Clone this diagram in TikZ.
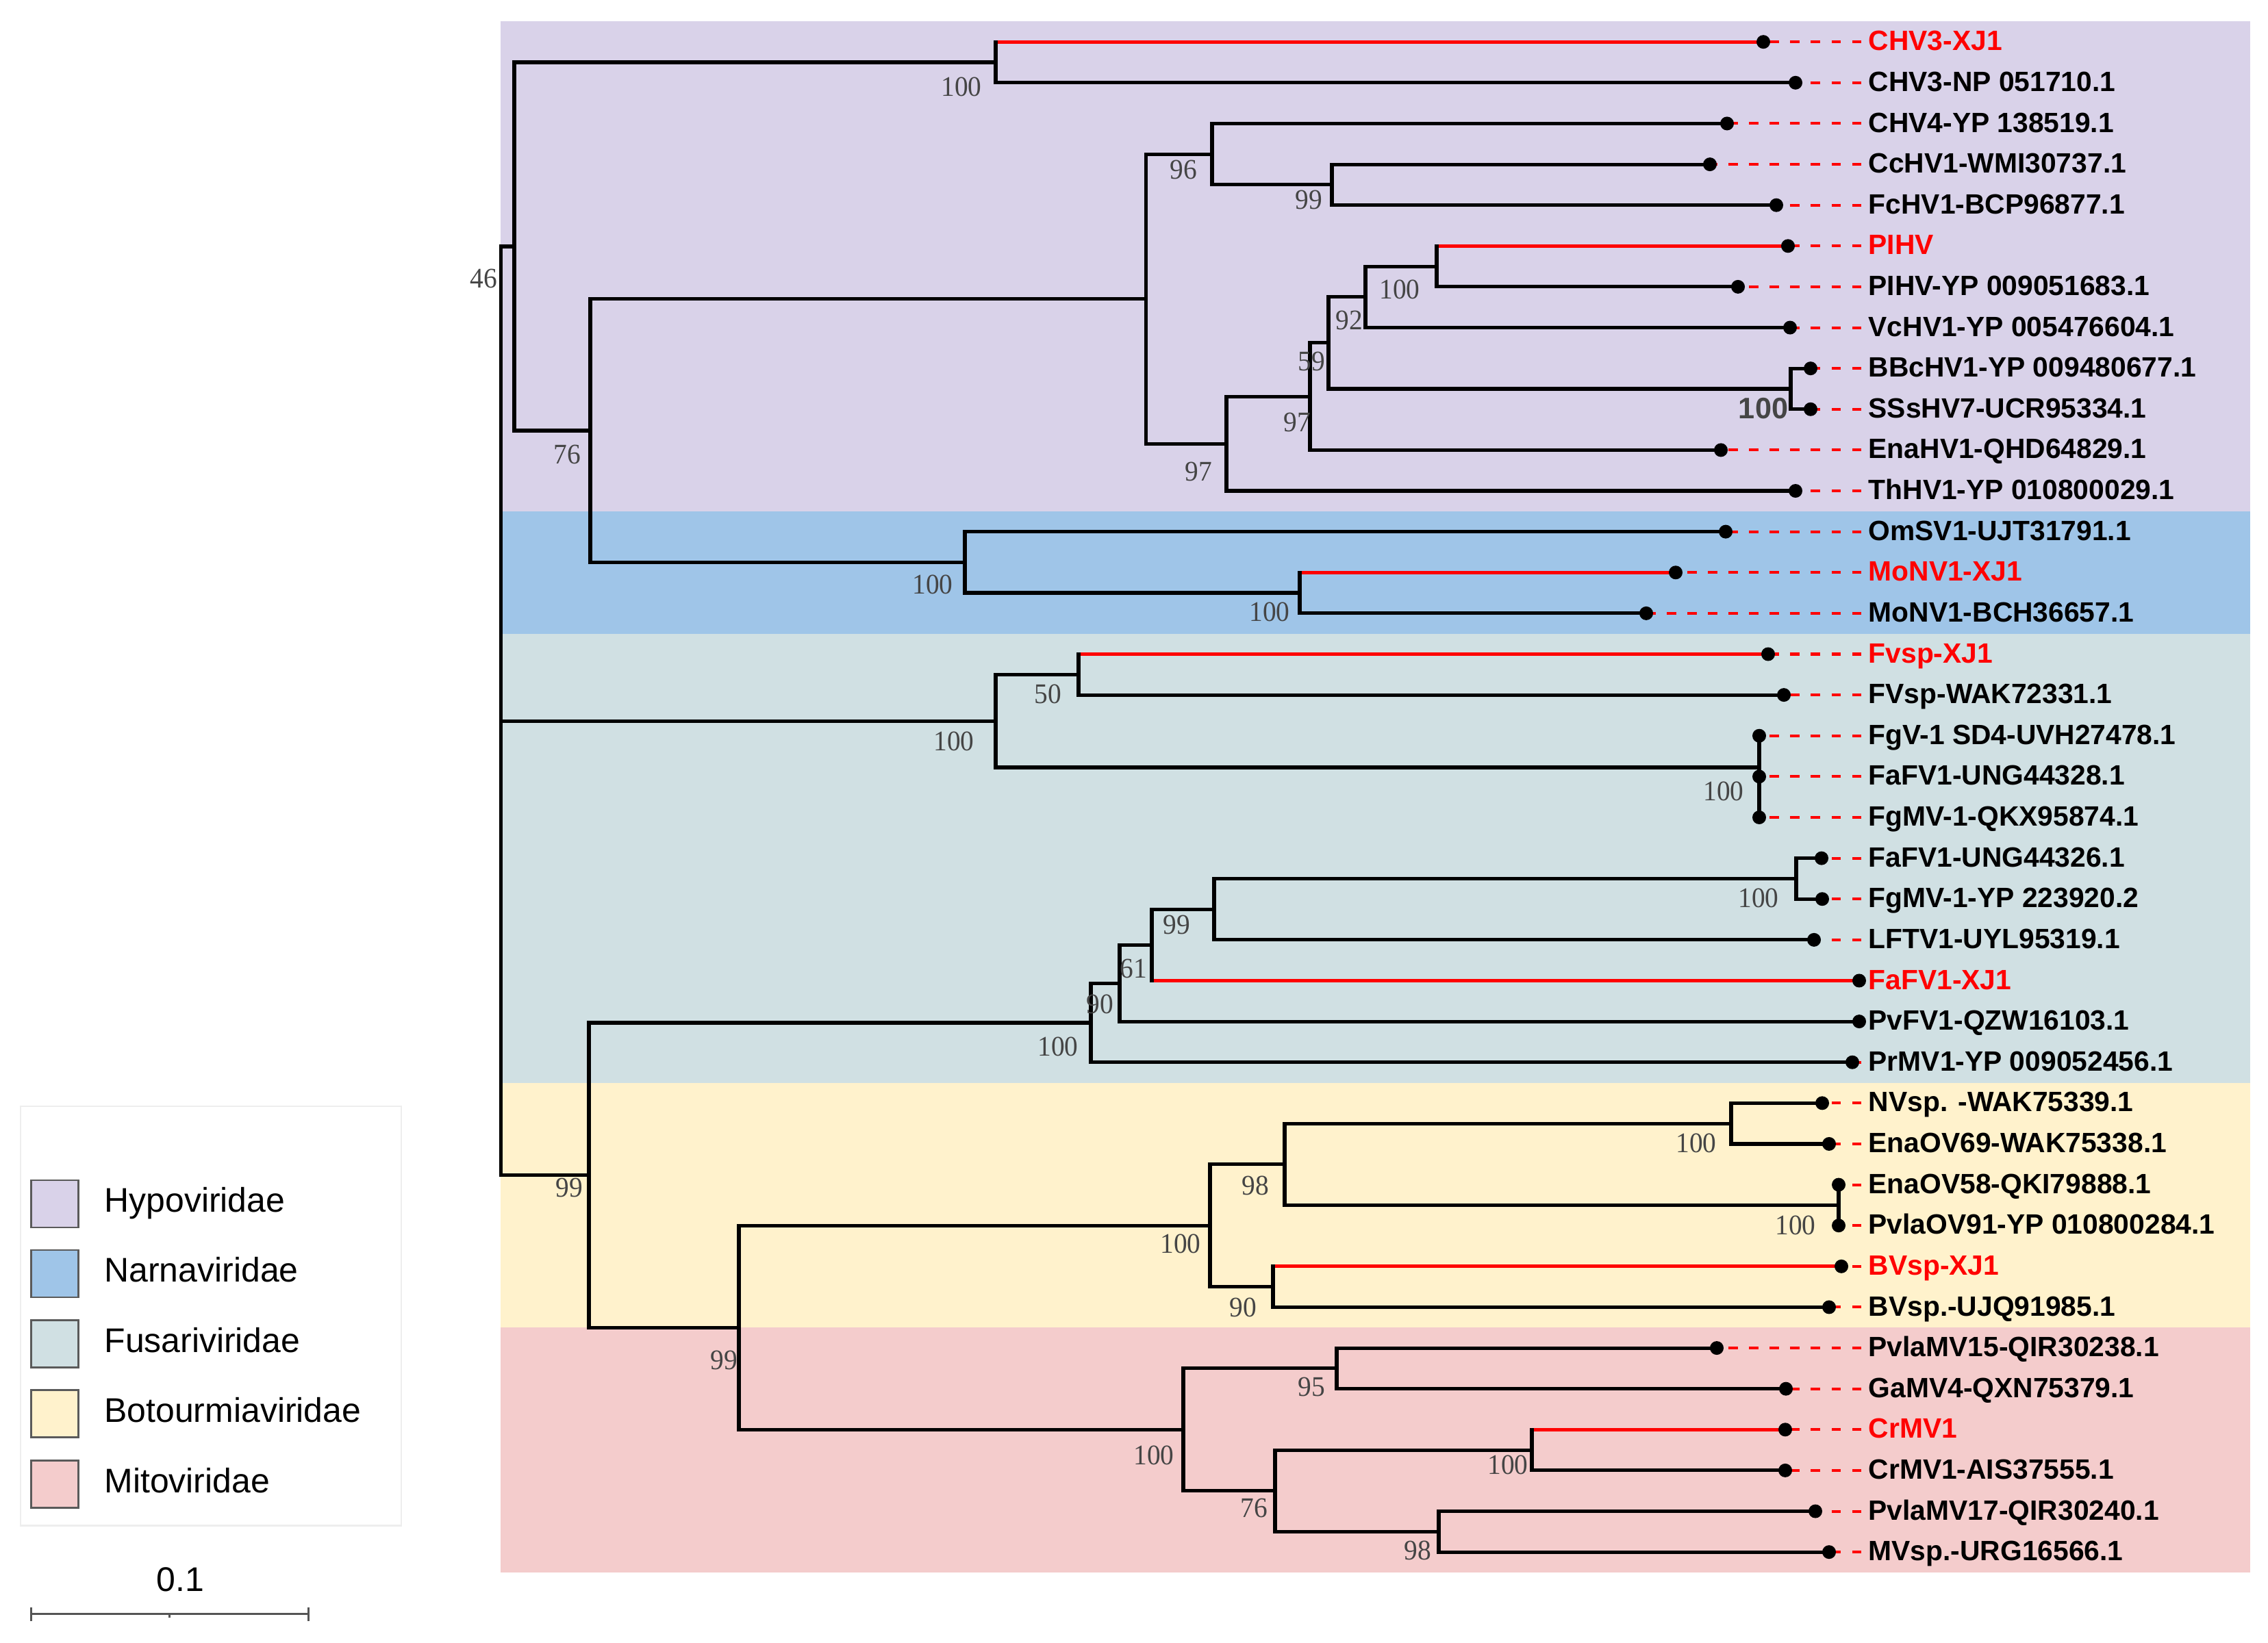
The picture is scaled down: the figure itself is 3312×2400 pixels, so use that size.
\documentclass[tikz,border=0pt]{standalone}
\usepackage{fontspec}
\setmainfont{Liberation Sans}
\newfontfamily\bsfont{Liberation Serif}
\definecolor{hypo}{HTML}{D9D2E9}
\definecolor{narna}{HTML}{9FC5E8}
\definecolor{fusa}{HTML}{D0E0E3}
\definecolor{boto}{HTML}{FFF2CC}
\definecolor{mito}{HTML}{F4CCCC}
\definecolor{treered}{HTML}{FF0000}
\definecolor{bootgray}{HTML}{454545}
\definecolor{legline}{HTML}{EEEEEE}
\definecolor{swline}{HTML}{5A5A5A}
\definecolor{sbgray}{HTML}{555555}
\newcommand{\tbh}[3][branch]{\draw[#1] (#2|-#3) -- (#3);}
\newcommand{\tbv}[3]{\draw[branch] (#1|-#2) -- (#1|-#3);}
\newcommand{\bsv}[1]{\scalebox{0.95}[1]{#1}}
\begin{document}
\begin{tikzpicture}[x=0.01cm,y=-0.01cm,
  branch/.style={line width=1.45pt, line cap=rect, draw=black},
  redbranch/.style={line width=1.45pt, draw=treered},
  dashline/.style={draw=treered, line width=1.15pt, dash pattern=on 0.135cm off 0.165cm},
  leaf/.style={anchor=west, inner sep=0pt, text height=0.716em, text depth=0pt, font=\fontsize{11.6}{13}\selectfont\bfseries},
  boot/.style={inner sep=0pt, text=bootgray, font=\bsfont\fontsize{11.8}{12}\selectfont},
  bootbig/.style={inner sep=0pt, text=bootgray, font=\fontsize{12.3}{13}\selectfont\bfseries},
  swatch/.style={draw=swline, line width=0.7pt, minimum width=0.69cm, minimum height=0.69cm, inner sep=0pt},
  legtext/.style={anchor=west, inner sep=0pt, text height=0.716em, text depth=0pt, font=\fontsize{14.2}{16}\selectfont}
]
\useasboundingbox (0,0) rectangle (3312,2400);
\fill[white] (0,0) rectangle (3312,2400);
% family bands
\fill[hypo] (731,31.4) rectangle (3286,746.8);
\fill[narna] (731,746.8) rectangle (3286,925.7);
\fill[fusa] (731,925.7) rectangle (3286,1581.5);
\fill[boto] (731,1581.5) rectangle (3286,1939.2);
\fill[mito] (731,1939.2) rectangle (3286,2296.8);
% leaves
\foreach \i/\tx/\col/\lab in {
 0/2575/treered/CHV3-XJ1,
 1/2622/black/CHV3-NP 051710.1,
 2/2522/black/CHV4-YP 138519.1,
 3/2497/black/CcHV1-WMI30737.1,
 4/2594/black/FcHV1-BCP96877.1,
 5/2611/treered/PIHV,
 6/2538/black/PIHV-YP 009051683.1,
 7/2614/black/VcHV1-YP 005476604.1,
 8/2644/black/BBcHV1-YP 009480677.1,
 9/2644/black/SSsHV7-UCR95334.1,
 10/2513/black/EnaHV1-QHD64829.1,
 11/2622/black/ThHV1-YP 010800029.1,
 12/2520/black/OmSV1-UJT31791.1,
 13/2447/treered/MoNV1-XJ1,
 14/2404/black/MoNV1-BCH36657.1,
 15/2582/treered/Fvsp-XJ1,
 16/2605/black/FVsp-WAK72331.1,
 17/2569/black/FgV-1 SD4-UVH27478.1,
 18/2569/black/FaFV1-UNG44328.1,
 19/2569/black/FgMV-1-QKX95874.1,
 20/2660/black/FaFV1-UNG44326.1,
 21/2661/black/FgMV-1-YP 223920.2,
 22/2649/black/LFTV1-UYL95319.1,
 23/2715/treered/FaFV1-XJ1,
 24/2715/black/PvFV1-QZW16103.1,
 25/2705/black/PrMV1-YP 009052456.1,
 26/2661/black/NVsp. -WAK75339.1,
 27/2671/black/EnaOV69-WAK75338.1,
 28/2685/black/EnaOV58-QKI79888.1,
 29/2685/black/PvlaOV91-YP 010800284.1,
 30/2689/treered/BVsp-XJ1,
 31/2671/black/BVsp.-UJQ91985.1,
 32/2507/black/PvlaMV15-QIR30238.1,
 33/2608/black/GaMV4-QXN75379.1,
 34/2607/treered/CrMV1,
 35/2607/black/CrMV1-AIS37555.1,
 36/2651/black/PvlaMV17-QIR30240.1,
 37/2671/black/MVsp.-URG16566.1} {
  \pgfmathsetmacro\yy{61.2+59.62*\i}
  \coordinate (t\i) at (\tx,\yy);
  \node[leaf, text=\col] (L\i) at (2728,\yy) {\lab};
}
% internal nodes
\coordinate (root) at (731.5,1053.2);
\coordinate (n46) at (751,360);
\coordinate (nCHV3) at (1454,91);
\coordinate (n76) at (862,629);
\coordinate (nHypo) at (1673.5,436.7);
\coordinate (n96) at (1770,225.2);
\coordinate (n99) at (1945,269.9);
\coordinate (n97out) at (1791,648.1);
\coordinate (n97in) at (1913,579.2);
\coordinate (n59) at (1940,500.9);
\coordinate (n92) at (1994,433.8);
\coordinate (nPIHV) at (2098,389.1);
\coordinate (nBB) at (2615,568);
\coordinate (nNarna) at (1409,821.3);
\coordinate (nMoNV) at (1898,866);
\coordinate (nFusA) at (1454,1053.2);
\coordinate (n50) at (1575,985.3);
\coordinate (nFgV) at (2569,1121);
\coordinate (n99big) at (860,1716.6);
\coordinate (nFusB) at (1593,1494);
\coordinate (n90f) at (1635,1436.2);
\coordinate (n61) at (1682,1380.3);
\coordinate (n99f) at (1773,1328.1);
\coordinate (nFaUNG) at (2623,1283.4);
\coordinate (n99bm) at (1079,1939.3);
\coordinate (nBoto) at (1767,1790.2);
\coordinate (n98) at (1876,1700.8);
\coordinate (nNVsp) at (2528,1641.1);
\coordinate (nEna) at (2685,1760.4);
\coordinate (n90b) at (1859,1879.6);
\coordinate (nMito) at (1728,2088.3);
\coordinate (n95) at (1952,1998.9);
\coordinate (n76m) at (1862,2177.7);
\coordinate (nCrMV) at (2237,2118.1);
\coordinate (n98m) at (2101,2237.3);
% horizontal branches
\tbh{root}{n46} \tbh{root}{nFusA} \tbh{root}{n99big}
\tbh{n46}{nCHV3} \tbh{n46}{n76}
\tbh[redbranch]{nCHV3}{t0} \tbh{nCHV3}{t1}
\tbh{n76}{nHypo} \tbh{n76}{nNarna}
\tbh{nHypo}{n96} \tbh{nHypo}{n97out}
\tbh{n96}{t2} \tbh{n96}{n99}
\tbh{n99}{t3} \tbh{n99}{t4}
\tbh{n97out}{n97in} \tbh{n97out}{t11}
\tbh{n97in}{n59} \tbh{n97in}{t10}
\tbh{n59}{n92} \tbh{n59}{nBB}
\tbh{n92}{nPIHV} \tbh{n92}{t7}
\tbh[redbranch]{nPIHV}{t5} \tbh{nPIHV}{t6}
\tbh{nBB}{t8} \tbh{nBB}{t9}
\tbh{nNarna}{t12} \tbh{nNarna}{nMoNV}
\tbh[redbranch]{nMoNV}{t13} \tbh{nMoNV}{t14}
\tbh{nFusA}{n50} \tbh{nFusA}{nFgV}
\tbh[redbranch]{n50}{t15} \tbh{n50}{t16}
\tbh{n99big}{nFusB} \tbh{n99big}{n99bm}
\tbh{nFusB}{n90f} \tbh{nFusB}{t25}
\tbh{n90f}{n61} \tbh{n90f}{t24}
\tbh{n61}{n99f} \tbh[redbranch]{n61}{t23}
\tbh{n99f}{nFaUNG} \tbh{n99f}{t22}
\tbh{nFaUNG}{t20} \tbh{nFaUNG}{t21}
\tbh{n99bm}{nBoto} \tbh{n99bm}{nMito}
\tbh{nBoto}{n98} \tbh{nBoto}{n90b}
\tbh{n98}{nNVsp} \tbh{n98}{nEna}
\tbh{nNVsp}{t26} \tbh{nNVsp}{t27}
\tbh[redbranch]{n90b}{t30} \tbh{n90b}{t31}
\tbh{nMito}{n95} \tbh{nMito}{n76m}
\tbh{n95}{t32} \tbh{n95}{t33}
\tbh{n76m}{nCrMV} \tbh{n76m}{n98m}
\tbh[redbranch]{nCrMV}{t34} \tbh{nCrMV}{t35}
\tbh{n98m}{t36} \tbh{n98m}{t37}
% vertical branches
\tbv{root}{n46}{n99big}
\tbv{n46}{nCHV3}{n76}
\tbv{nCHV3}{t0}{t1}
\tbv{n76}{nHypo}{nNarna}
\tbv{nHypo}{n96}{n97out}
\tbv{n96}{t2}{n99}
\tbv{n99}{t3}{t4}
\tbv{n97out}{n97in}{t11}
\tbv{n97in}{n59}{t10}
\tbv{n59}{n92}{nBB}
\tbv{n92}{nPIHV}{t7}
\tbv{nPIHV}{t5}{t6}
\tbv{nBB}{t8}{t9}
\tbv{nNarna}{t12}{nMoNV}
\tbv{nMoNV}{t13}{t14}
\tbv{nFusA}{n50}{nFgV}
\tbv{n50}{t15}{t16}
\tbv{nFgV}{t17}{t19}
\tbv{n99big}{nFusB}{n99bm}
\tbv{nFusB}{n90f}{t25}
\tbv{n90f}{n61}{t24}
\tbv{n61}{n99f}{t23}
\tbv{n99f}{nFaUNG}{t22}
\tbv{nFaUNG}{t20}{t21}
\tbv{n99bm}{nBoto}{nMito}
\tbv{nBoto}{n98}{n90b}
\tbv{n98}{nNVsp}{nEna}
\tbv{nNVsp}{t26}{t27}
\tbv{nEna}{t28}{t29}
\tbv{n90b}{t30}{t31}
\tbv{nMito}{n95}{n76m}
\tbv{n95}{t32}{t33}
\tbv{n76m}{nCrMV}{n98m}
\tbv{nCrMV}{t34}{t35}
\tbv{n98m}{t36}{t37}
% dashed leaders and tip dots
\foreach \i in {0,...,37} {
  \draw[dashline] ([xshift=-0.1cm]L\i.west) -- (t\i);
  \fill[black] (t\i) circle[radius=0.1cm];
}
% bootstrap values
\node[boot] (b01) at (706,407) {\bsv{46}};
\node[boot] (b02) at (1404,127) {\bsv{100}};
\node[boot] (b03) at (1728,248) {\bsv{96}};
\node[boot] (b04) at (1911,292) {\bsv{99}};
\node[boot] (b05) at (2044,423) {\bsv{100}};
\node[boot] (b06) at (1970,468) {\bsv{92}};
\node[boot] (b07) at (1915,528) {\bsv{59}};
\node[bootbig] (b08) at (2575,597) {100};
\node[boot] (b09) at (1894,617) {\bsv{97}};
\node[boot] (b10) at (1750,689) {\bsv{97}};
\node[boot] (b11) at (828,664) {\bsv{76}};
\node[boot] (b12) at (1362,854) {\bsv{100}};
\node[boot] (b13) at (1854,894) {\bsv{100}};
\node[boot] (b14) at (1530,1014) {\bsv{50}};
\node[boot] (b15) at (1393,1083) {\bsv{100}};
\node[boot] (b16) at (2517,1156) {\bsv{100}};
\node[boot] (b17) at (2568,1312) {\bsv{100}};
\node[boot] (b18) at (1718,1351) {\bsv{99}};
\node[boot] (b19) at (1655,1415) {\bsv{61}};
\node[boot] (b20) at (1606,1467) {\bsv{90}};
\node[boot] (b21) at (1545,1529) {\bsv{100}};
\node[boot] (b22) at (831,1735) {\bsv{99}};
\node[boot] (b23) at (1833,1732) {\bsv{98}};
\node[boot] (b24) at (2477,1670) {\bsv{100}};
\node[boot] (b25) at (2622,1790) {\bsv{100}};
\node[boot] (b26) at (1724,1817) {\bsv{100}};
\node[boot] (b27) at (1815,1910) {\bsv{90}};
\node[boot] (b28) at (1057,1987) {\bsv{99}};
\node[boot] (b29) at (1915,2026) {\bsv{95}};
\node[boot] (b30) at (1685,2126) {\bsv{100}};
\node[boot] (b31) at (2202,2140) {\bsv{100}};
\node[boot] (b32) at (1831,2203) {\bsv{76}};
\node[boot] (b33) at (2070,2265) {\bsv{98}};
% legend
\draw[legline, line width=0.6pt] (30.4,1615.6) rectangle (585.7,2228.5);
\node[swatch, fill=hypo] (s1) at (80.1,1758.3) {};
\node[swatch, fill=narna] (s2) at (80.1,1860.3) {};
\node[swatch, fill=fusa] (s3) at (80.1,1963) {};
\node[swatch, fill=boto] (s4) at (80.1,2065) {};
\node[swatch, fill=mito] (s5) at (80.1,2167.8) {};
\node[legtext] (g1) at (151.8,1758.3) {Hypoviridae};
\node[legtext] (g2) at (151.8,1860.3) {Narnaviridae};
\node[legtext] (g3) at (151.8,1963) {Fusariviridae};
\node[legtext] (g4) at (151.8,2065) {Botourmiaviridae};
\node[legtext] (g5) at (151.8,2167.8) {Mitoviridae};
% scale bar
\coordinate (sbL) at (45.5,2357.6);
\coordinate (sbR) at (450.9,2357.6);
\coordinate (sbM) at (247.8,2357.6);
\draw[sbgray, line width=0.9pt] (sbL) -- (sbR);
\draw[sbgray, line width=0.9pt] ([yshift=0.1cm]sbL) -- ([yshift=-0.1cm]sbL);
\draw[sbgray, line width=0.9pt] ([yshift=0.1cm]sbR) -- ([yshift=-0.1cm]sbR);
\draw[sbgray, line width=0.9pt] (sbM) -- ([yshift=-0.05cm]sbM);
\node[inner sep=0pt, text height=0.716em, text depth=0pt, font=\fontsize{14.2}{16}\selectfont] (sbT) at (263.4,2312) {0.1};
\end{tikzpicture}
\end{document}
